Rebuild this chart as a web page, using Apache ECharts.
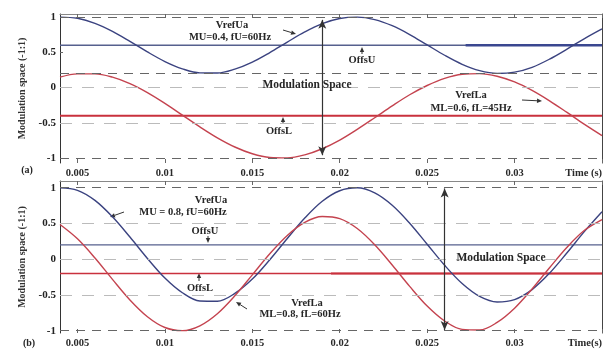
<!DOCTYPE html>
<html><head><meta charset="utf-8">
<script src="https://cdn.jsdelivr.net/npm/echarts@6/dist/echarts.min.js"></script>
<style>html,body{margin:0;padding:0;background:#fff}#c{width:608px;height:355px}</style>
</head><body><div id="c"></div>
<script>
// time samples (s)
const tSec = [0.004,0.005,0.006,0.007,0.008,0.009,0.010,0.011,0.012,0.013,0.014,0.015,0.016,0.017,0.018,0.019,
  0.020,0.021,0.022,0.023,0.024,0.025,0.026,0.027,0.028,0.029,0.030,0.031,0.032,0.033,0.034,0.035];
// (a) BB mode
const vrefUaA = [0.999,0.982,0.911,0.797,0.655,0.505,0.369,0.266,0.208,0.206,0.261,0.361,0.496,0.645,0.788,0.906,
  0.979,0.999,0.964,0.877,0.752,0.605,0.458,0.330,0.240,0.201,0.218,0.287,0.403,0.545,0.695,0.832];
const vrefLaA = [0.147,0.194,0.194,0.147,0.056,-0.071,-0.224,-0.391,-0.558,-0.713,-0.843,-0.939,-0.991,-0.997,-0.955,-0.868,
  -0.745,-0.593,-0.428,-0.260,-0.102,0.029,0.130,0.188,0.198,0.161,0.080,-0.040,-0.188,-0.353,-0.522,-0.681];
const offsUA = 0.6, offsLA = -0.4;
const offsUAboldFrom = 0.0272;
// (b) FF mode
const vrefUaB = [0.998,0.964,0.823,0.593,0.310,0.011,-0.263,-0.469,-0.584,-0.588,-0.478,-0.278,-0.007,0.290,0.576,0.811,
  0.958,0.999,0.928,0.755,0.504,0.210,-0.085,-0.340,-0.520,-0.598,-0.564,-0.425,-0.195,0.090,0.389,0.664];
const vrefLaB = [0.485,0.285,0.017,-0.282,-0.569,-0.804,-0.955,-0.999,-0.931,-0.762,-0.512,-0.219,0.076,0.333,0.515,0.597,
  0.567,0.429,0.202,-0.081,-0.380,-0.655,-0.864,-0.982,-0.990,-0.884,-0.685,-0.416,-0.119,0.168,0.405,0.554];
const offsUB = 0.2, offsLB = -0.2;
const offsLBboldFrom = 0.0195;
// axes
const xMin = 0.004, xMax = 0.035;
const xTicks = [0.005,0.01,0.015,0.02,0.025,0.03,0.035];
const xTickLabelsA = ['0.005','0.01','0.015','0.02','0.025','0.03','Time (s)'];
const xTickLabelsB = ['0.005','0.01','0.015','0.02','0.025','0.03','Time(s)'];
const yTicks = [-1,-0.5,0,0.5,1];
const yTickLabels = ['-1','-0.5','0','0.5','1'];
const guideDarkA = [1,0.2,-1], guideLightA = [0,-0.5];
const guideDarkB = [1,-1], guideLightB = [0.5,0,-0.5];
const spaceArrowA = [0.019, 0.96, -0.96];
const spaceArrowB = [0.026, 0.99, -0.99];

const FONT = '"Liberation Serif","DejaVu Serif",serif';
const C_U = '#3b4380', C_L = '#c4434f', C_OU = '#56608e', C_OL = '#c9313d';
const pair = (xs, ys) => xs.map((x, i) => [x, ys[i]]);
const hline = v => [[xMin, v], [xMax, v]];
const chart = echarts.init(document.getElementById('c'), null, {renderer: 'canvas'});

function xAxes(gi, labels) {
  return [{
    type: 'value', gridIndex: gi, min: xMin, max: xMax, position: 'bottom',
    axisLine: {show: false, onZero: false},
    axisTick: {show: true, inside: true, length: 4, customValues: xTicks, lineStyle: {color: '#666'}},
    axisLabel: {customValues: xTicks, margin: 5, color: '#2a2a2a', fontFamily: FONT, fontWeight: 'bold', fontSize: 10.5,
      alignMaxLabel: 'right',
      formatter: v => { const i = xTicks.findIndex(t => Math.abs(t - v) < 1e-9); return i >= 0 ? labels[i] : ''; }},
    splitLine: {show: false}
  }, {
    type: 'value', gridIndex: gi, min: xMin, max: xMax, position: 'top',
    axisLine: {show: true, onZero: false, lineStyle: {color: '#888'}},
    axisTick: {show: true, inside: true, length: 4, customValues: xTicks, lineStyle: {color: '#666'}},
    axisLabel: {show: false}, splitLine: {show: false}
  }];
}
function yAxes(gi, mn, mx) {
  return [{
    type: 'value', gridIndex: gi, min: mn, max: mx, position: 'left',
    name: 'Modulation space (-1:1)', nameLocation: 'middle', nameGap: 33, nameRotate: 90,
    nameTextStyle: {fontFamily: FONT, fontWeight: 'bold', fontSize: 10, color: '#333'},
    axisLine: {show: true, onZero: false, lineStyle: {color: '#333', width: 1}},
    axisTick: {show: true, inside: true, length: 3, customValues: yTicks, lineStyle: {color: '#666'}},
    axisLabel: {customValues: yTicks, margin: 4, color: '#222', fontFamily: FONT, fontWeight: 'bold', fontSize: 11,
      formatter: v => { const i = yTicks.findIndex(t => Math.abs(t - v) < 1e-9); return i >= 0 ? yTickLabels[i] : ''; }},
    splitLine: {show: false}
  }, {
    type: 'value', gridIndex: gi, min: mn, max: mx, position: 'right',
    axisLine: {show: true, onZero: false, lineStyle: {color: '#444'}}, axisTick: {show: false}, axisLabel: {show: false}, splitLine: {show: false}
  }];
}
function guides(xi, yi, dark, light, arrow) {
  const d = dark.map(v => ({yAxis: v, lineStyle: {color: '#666', type: [9, 7], width: 1.2}}));
  const l = light.map(v => ({yAxis: v, lineStyle: {color: '#bbb', type: [12, 10], width: 1}}));
  return {
    type: 'line', xAxisIndex: xi, yAxisIndex: yi, data: [], silent: true, animation: false,
    markLine: {silent: true, symbol: 'none', label: {show: false}, animation: false,
      data: d.concat(l).concat([[
        {coord: [arrow[0], arrow[1]], symbol: 'arrow', symbolSize: [6, 9], lineStyle: {color: '#333', type: 'solid', width: 1.2}},
        {coord: [arrow[0], arrow[2]], symbol: 'arrow', symbolSize: [6, 9]}
      ]])}
  };
}
function ln(xi, yi, data, color, width, z) {
  return {type: 'line', xAxisIndex: xi, yAxisIndex: yi, data, showSymbol: false, symbol: 'none', smooth: 0.35,
    lineStyle: {color, width}, animation: false, silent: true, z: z || 2};
}

function arrowG(x1, y1, x2, y2) {
  const a = Math.atan2(y2 - y1, x2 - x1), h = 5, w = 2.2;
  const bx = x2 - h * Math.cos(a), by = y2 - h * Math.sin(a);
  return {type: 'group', children: [
    {type: 'line', shape: {x1, y1, x2: bx, y2: by}, style: {stroke: '#333', lineWidth: 1}},
    {type: 'polygon', shape: {points: [[x2, y2], [bx + w * Math.sin(a), by - w * Math.cos(a)], [bx - w * Math.sin(a), by + w * Math.cos(a)]]}, style: {fill: '#333'}}
  ]};
}
function txt(s, x, y, size, align) {
  return {type: 'text', x, y, z: 100, style: {text: s, font: 'bold ' + (size || 10.5) + 'px ' + FONT, fill: '#262626',
    align: align || 'center', verticalAlign: 'middle'}};
}

chart.setOption({
  animation: false,
  grid: [
    {left: 60, right: 6, top: 14, height: 149},
    {left: 60, right: 6, top: 181, height: 152}
  ],
  xAxis: xAxes(0, xTickLabelsA).concat(xAxes(1, xTickLabelsB)),
  yAxis: yAxes(0, -1.07, 1.043).concat(yAxes(1, -1.032, 1.094)),
  series: [
    guides(0, 0, guideDarkA, guideLightA, spaceArrowA),
    ln(0, 0, hline(offsUA), C_OU, 1.3),
    ln(0, 0, [[offsUAboldFrom, offsUA], [xMax, offsUA]], '#3a4790', 2.4),
    ln(0, 0, hline(offsLA), C_OL, 1.8),
    ln(0, 0, pair(tSec, vrefUaA), C_U, 1.4, 3),
    ln(0, 0, pair(tSec, vrefLaA), C_L, 1.4, 3),
    guides(2, 2, guideDarkB, guideLightB, spaceArrowB),
    ln(2, 2, hline(offsUB), C_OU, 1.3),
    ln(2, 2, hline(offsLB), C_OL, 1.3),
    ln(2, 2, [[offsLBboldFrom, offsLB], [xMax, offsLB]], C_OL, 2.2),
    ln(2, 2, pair(tSec, vrefUaB), C_U, 1.4, 3),
    ln(2, 2, pair(tSec, vrefLaB), C_L, 1.4, 3)
  ],
  graphic: [
    txt('VrefUa', 232, 25), txt('MU=0.4, fU=60Hz', 230, 37),
    arrowG(283, 30, 296, 34),
    txt('OffsU', 362, 60), arrowG(362, 54, 362, 47),
    txt('Modulation Space', 307, 85, 11.5),
    txt('VrefLa', 471, 95), txt('ML=0.6, fL=45Hz', 471, 108),
    arrowG(522, 100, 542, 101),
    txt('OffsL', 279, 131), arrowG(283, 124, 283, 117),
    txt('(a)', 27, 170, 10),
    txt('VrefUa', 211, 200), txt('MU = 0.8, fU=60Hz', 183, 212),
    arrowG(124, 212, 110, 217),
    txt('OffsU', 205, 231), arrowG(208, 236, 208, 243),
    txt('OffsL', 200, 288), arrowG(199, 281, 199, 273),
    txt('VrefLa', 307, 303), txt('ML=0.8, fL=60Hz', 300, 314),
    arrowG(247, 309, 236, 302),
    txt('Modulation Space', 501, 258, 11.5),
    txt('(b)', 29, 343, 10)
  ]
});
</script></body></html>
